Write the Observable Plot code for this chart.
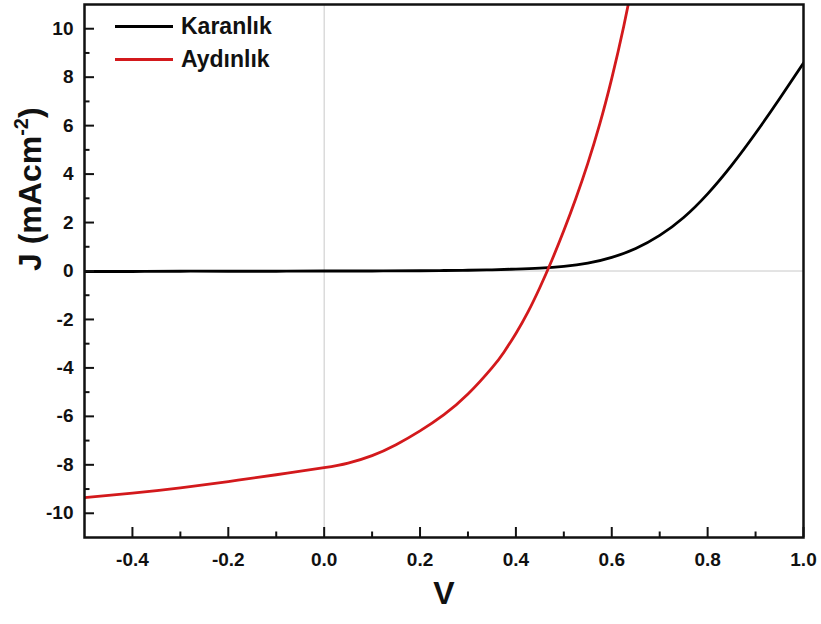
<!DOCTYPE html>
<html><head><meta charset="utf-8">
<script src="https://cdn.jsdelivr.net/npm/d3@7"></script>
<script src="https://cdn.jsdelivr.net/npm/@observablehq/plot@0.6"></script>
<style>
body{margin:0;background:#fff;font-family:"Liberation Sans",Arial,sans-serif;}
#wrap{position:relative;width:821px;height:624px;}
.legend{position:absolute;left:115px;top:10px;font-weight:bold;font-size:23px;line-height:33px;color:#111;}
.legend .item{display:flex;align-items:center;}
.legend .sw{width:58px;height:3px;margin-right:8px;}
</style></head><body><div id="wrap"></div>
<script>
const darkV = [-0.5,-0.4,-0.3,-0.2,-0.1,0,0.1,0.2,0.25,0.3,0.35,0.4,0.45,0.5,0.55,0.6,0.65,0.7,0.75,0.8,0.85,0.9,0.95,1.0];
const darkJ = [-0.02,-0.02,-0.01,-0.01,-0.01,0,0,0.01,0.02,0.03,0.05,0.08,0.12,0.19,0.32,0.56,0.93,1.47,2.21,3.185,4.36,5.685,7.11,8.585];
const lightV = [-0.5,-0.4,-0.3,-0.2,-0.1,0,0.05,0.1,0.15,0.2,0.25,0.3,0.35,0.375,0.4,0.425,0.45,0.475,0.5,0.525,0.55,0.575,0.6,0.625,0.65];
const lightJ = [-9.35,-9.17,-8.95,-8.69,-8.41,-8.12,-7.93,-7.62,-7.17,-6.6,-5.93,-5.08,-4.0,-3.35,-2.58,-1.7,-0.68,0.445,1.67,2.995,4.445,6.07,7.95,10.1,12.5];
const seriesNames = ["Karanlık","Aydınlık"];
const seriesColors = ["#000000","#d3191c"];
const xMajor = [-0.4,-0.2,0.0,0.2,0.4,0.6,0.8,1.0];
const xMinor = [-0.3,-0.1,0.1,0.3,0.5,0.7,0.9];
const yMajor = [-10,-8,-6,-4,-2,0,2,4,6,8,10];
const yMinor = [-9,-7,-5,-3,-1,1,3,5,7,9];
const xLabel = "V";
const yLabel = "J (mAcm-2)";

const data = [
  ...darkV.map((v,i)=>({V:v,J:darkJ[i],s:seriesNames[0]})),
  ...lightV.map((v,i)=>({V:v,J:lightJ[i],s:seriesNames[1]}))
];

const W=821,H=624,mL=84,mR=18,mT=4,mB=87;
const pw=W-mL-mR, ph=H-mT-mB;

const plot = Plot.plot({
  width:W,height:H,marginLeft:mL,marginRight:mR,marginTop:mT,marginBottom:mB,
  style:{fontFamily:"'Liberation Sans', Arial, sans-serif",background:"#fff",color:"#111"},
  x:{domain:[-0.5,1.0]},
  y:{domain:[-11,11]},
  color:{domain:seriesNames,range:seriesColors},
  marks:[
    Plot.ruleX([0],{stroke:"#c8c8c8",strokeWidth:1}),
    Plot.ruleY([0],{stroke:"#c8c8c8",strokeWidth:1}),
    Plot.line(data,{x:"V",y:"J",z:"s",stroke:"s",strokeWidth:2.8,curve:"natural",clip:true}),
    Plot.ruleX(xMajor,{x:d=>d,insetTop:ph-10,stroke:"#111",strokeWidth:2}),
    Plot.ruleX(xMinor,{x:d=>d,insetTop:ph-5.5,stroke:"#111",strokeWidth:2}),
    Plot.ruleY(yMajor,{y:d=>d,insetRight:pw-10,stroke:"#111",strokeWidth:2}),
    Plot.ruleY(yMinor,{y:d=>d,insetRight:pw-5.5,stroke:"#111",strokeWidth:2}),
    Plot.axisX(xMajor,{tickSize:0,tickPadding:15,fontSize:19,fontWeight:"bold",tickFormat:d=>d.toFixed(1),label:null}),
    Plot.axisY(yMajor,{tickSize:0,tickPadding:11,fontSize:19,fontWeight:"bold",tickFormat:d=>String(d),label:null}),
    Plot.frame({stroke:"#111",strokeWidth:2.5}),
    Plot.text([xLabel],{frameAnchor:"bottom",dy:66,fontSize:32,fontWeight:"bold",fill:"#111"}),
    Plot.text([yLabel],{frameAnchor:"left",dx:-54,rotate:-90,fontSize:32,fontWeight:"bold",fill:"#111",className:"ylab"})
  ]
});

const wrap=document.getElementById("wrap");
wrap.appendChild(plot);

// superscript on y label
d3.select(plot).selectAll(".ylab text").each(function(){
  const t=d3.select(this);
  t.text(null);
  t.append("tspan").text("J (mAcm");
  t.append("tspan").attr("dy",-13).attr("font-size",20).text("-2");
  t.append("tspan").attr("dy",13).text(")");
});

const lg=document.createElement("div");
lg.className="legend";
seriesNames.forEach((n,i)=>{
  const it=document.createElement("div");it.className="item";
  const sw=document.createElement("span");sw.className="sw";sw.style.background=seriesColors[i];
  const tx=document.createElement("span");tx.textContent=n;
  it.appendChild(sw);it.appendChild(tx);lg.appendChild(it);
});
wrap.appendChild(lg);
</script></body></html>
